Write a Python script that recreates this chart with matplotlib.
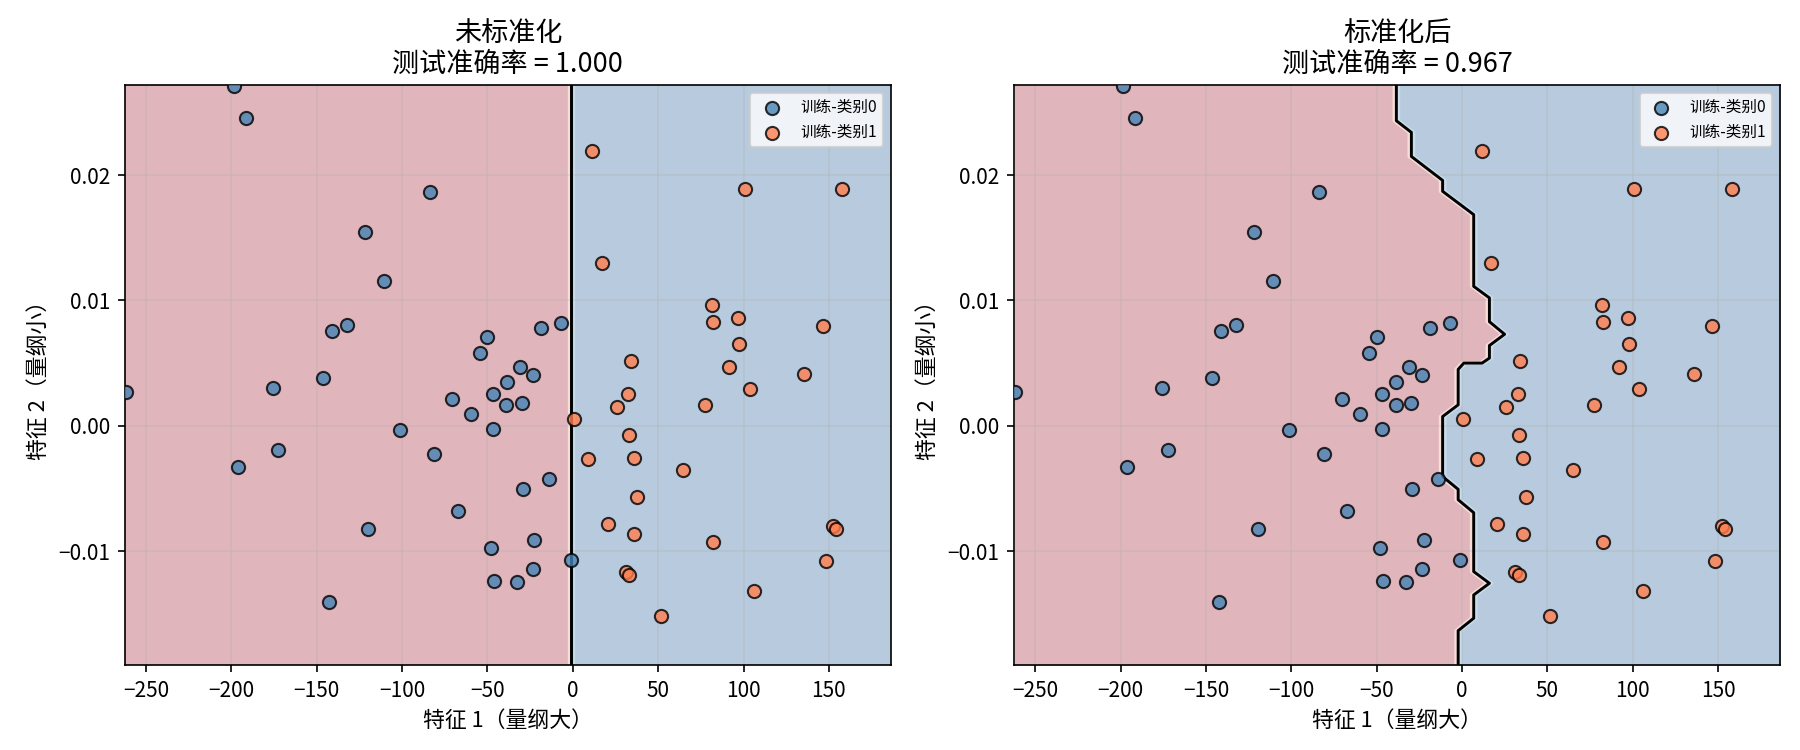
import numpy as np
import matplotlib
matplotlib.use('Agg')
import matplotlib.pyplot as plt
import matplotlib.transforms as mtransforms

plt.rcParams['font.family'] = ['Noto Sans CJK SC', 'DejaVu Sans']
plt.rcParams['axes.unicode_minus'] = True

# training points, class 0
x0 = [-198.6, -191.4, -83.8, -121.9, -110.8, -132.5, -141.3, -175.7, -146.4, -172.4,
      -101.4, -81.0, -50.1, -54.4, -18.6, -6.8, -31.1, -23.3, -38.6, -47.0,
      -38.9, -29.7, -70.5, -59.7, -47.0, -14.1, -29.4, -67.3, -119.8, -22.5,
      -48.1, -1.2, -23.5, -46.2, -32.9, -142.5, -261.7, -196.2]
y0 = [0.02714, 0.02458, 0.01868, 0.01543, 0.01157, 0.00807, 0.00752, 0.0030, 0.0038, -0.00195,
      -0.00034, -0.00226, 0.00708, 0.00581, 0.00783, 0.00817, 0.0047, 0.00405, 0.00346, 0.00257,
      0.00167, 0.00182, 0.0021, 0.00096, -0.00025, -0.00421, -0.00504, -0.0068, -0.00823, -0.00912,
      -0.00977, -0.01067, -0.01141, -0.01237, -0.01243, -0.01404, 0.00268, -0.00327]

# training points, class 1
x1 = [11.4, 17.2, 34.2, 32.5, 26.0, 0.6, 33.1, 8.8, 35.8, 37.6,
      20.7, 35.8, 31.1, 33.1, 51.5, 100.7, 157.8, 81.8, 82.4, 97.0,
      146.5, 97.6, 91.7, 135.6, 103.6, 77.3, 64.8, 82.4, 152.5, 154.1,
      148.1, 106.1]
y1 = [0.0219, 0.01299, 0.00517, 0.0025, 0.00152, 0.00056, -0.00074, -0.00266, -0.00254, -0.00566,
      -0.00786, -0.0086, -0.01169, -0.01191, -0.01515, 0.01892, 0.01886, 0.00964, 0.00824, 0.00857,
      0.00793, 0.00653, 0.00467, 0.00412, 0.0029, 0.00168, -0.00351, -0.00928, -0.0080, -0.0082,
      -0.0108, -0.01321]

x_range = (-262.3, 186.3)
y_range = (-0.0191, 0.0272)

# decision boundary, unscaled model (vertical line)
raw_bx = [-1.2, -1.2]
raw_by = [-0.0191, 0.0272]

# decision boundary, scaled model (read top to bottom)
std_bx = [-38.5, -38.5, -29.7, -29.7, -11.4, -11.4, 6.8, 6.8, 16.0, 16.0,
          24.9, 16.0, 16.0, 11.7, 1.0, -2.3, -2.3, -11.4, -11.4, -2.3,
          -2.3, 6.8, 6.8, 16.0, 6.8, 6.8, -2.3, -2.3]
std_by = [0.0272, 0.02433, 0.0234, 0.02148, 0.01957, 0.0187, 0.01684, 0.01112, 0.0102, 0.0083,
          0.0073, 0.0064, 0.0054, 0.0050, 0.0050, 0.0045, 0.00167, 0.00074, -0.00405, -0.00507,
          -0.0059, -0.00693, -0.01163, -0.01256, -0.01349, -0.01535, -0.01634, -0.0191]

titles = ['未标准化', '标准化后']
accs = [1.000, 0.967]
boundaries = [(raw_bx, raw_by), (std_bx, std_by)]

red_bg = (224/255, 181/255, 188/255)
blue_bg = (184/255, 202/255, 221/255)

fig, axes = plt.subplots(1, 2, figsize=(12, 5), dpi=150)
fig.subplots_adjust(left=0.0694, right=0.989, bottom=0.113, top=0.887, wspace=0.161)

for ax, title, acc, (bx, by) in zip(axes, titles, accs, boundaries):
    bx = np.array(bx)
    by = np.array(by)
    ax.fill_betweenx(by, x_range[0], bx, color=red_bg, lw=0)
    ax.fill_betweenx(by, bx, x_range[1], color=blue_bg, lw=0)

    # light transition strips either side of the boundary
    left_shift = mtransforms.offset_copy(ax.transData, fig=fig, x=-2.2, y=0, units='dots')
    right_shift = mtransforms.offset_copy(ax.transData, fig=fig, x=2.2, y=0, units='dots')
    ax.plot(bx, by, color='#f7ddd8', lw=1.6, transform=left_shift, zorder=1.2)
    ax.plot(bx, by, color='#c9dcea', lw=1.6, transform=right_shift, zorder=1.2)
    ax.plot(bx, by, color='black', lw=1.4, zorder=2)

    ax.scatter(x0, y0, c='steelblue', edgecolors='k', s=40, alpha=0.8,
               linewidths=1, label='训练-类别0', zorder=3)
    ax.scatter(x1, y1, c='coral', edgecolors='k', s=40, alpha=0.8,
               linewidths=1, label='训练-类别1', zorder=3)

    ax.set_xlim(x_range)
    ax.set_ylim(y_range)
    ax.set_title(f'{title}\n测试准确率 = {acc:.3f}', fontsize=13)
    ax.set_xlabel('特征 1（量纲大）', fontsize=10.5)
    ax.set_ylabel('特征 2（量纲小）', fontsize=10.5)
    ax.grid(alpha=0.3)
    ax.legend(loc='upper right', fontsize=7.5)

fig.savefig('out.png', dpi=150)
